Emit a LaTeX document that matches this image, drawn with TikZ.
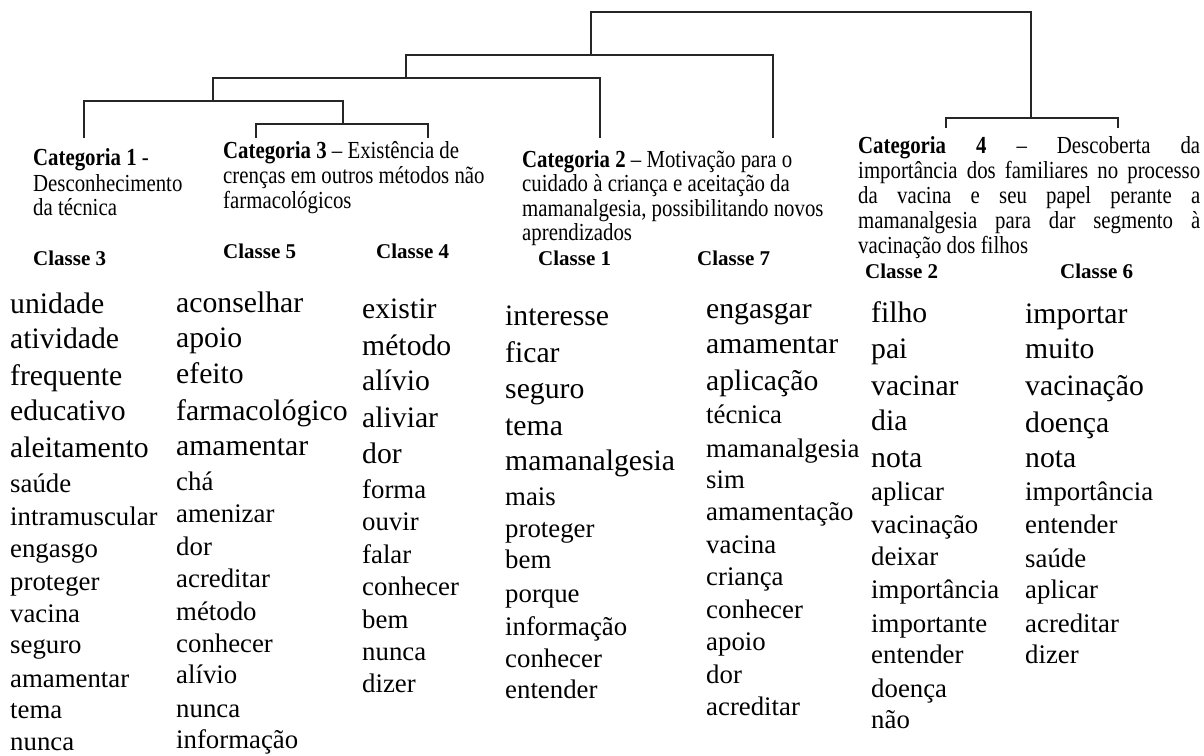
\documentclass[tikz,border=0pt]{standalone}
\usepackage{fontspec}
\setmainfont{Liberation Serif}
\newfontfamily\hdfont[FakeStretch=0.85]{Liberation Serif}
\begin{document}
\begin{tikzpicture}[x=1pt,y=-1pt,
  link/.style={line width=1.9pt, black!85},
  wbig/.style={anchor=base west, inner sep=0pt, font=\fontsize{29.7}{30}\selectfont},
  wsmall/.style={anchor=base west, inner sep=0pt, font=\fontsize{26.8}{27}\selectfont},
  cls/.style={anchor=base west, inner sep=0pt, font=\bfseries\fontsize{21}{22}\selectfont},
  cat/.style={anchor=base west, inner sep=0pt, font=\hdfont\fontsize{24.5}{25}\selectfont},
]
\useasboundingbox (0,0) rectangle (1204,755);

% ---------- dendrogram ----------
\coordinate (L1)  at (84,138);
\coordinate (L3a) at (256,138);
\coordinate (L3b) at (428,138);
\coordinate (L2a) at (600,138);
\coordinate (L2b) at (773,138);
\coordinate (L4a) at (946,128);
\coordinate (L4b) at (1118,128);
\coordinate (M124) at (343,124);
\coordinate (M101) at (213,101);
\coordinate (M78)  at (406,78);
\coordinate (M55)  at (591,55);
\coordinate (M118) at (1031,118);
\coordinate (Mtop) at (811,12);

\draw[link] (L3a) |- (M124) -| (L3b);
\draw[link] (L1) |- (M101) -| (M124);
\draw[link] (M101) |- (M78) -| (L2a);
\draw[link] (M78) |- (M55) -| (L2b);
\draw[link] (L4a) |- (M118) -| (L4b);
\draw[link] (M55) |- (Mtop) -| (M118);

% ---------- category headers ----------
\node[cat] (cat1a) at (33,165) {\textbf{Categoria 1} -};
\node[cat] (cat1b) at (33,191) {Desconhecimento};
\node[cat] (cat1c) at (33,215) {da técnica};

\node[cat] (cat3a) at (223,158) {\textbf{Categoria 3} – Existência de};
\node[cat] (cat3b) at (223,183) {crenças em outros métodos não};
\node[cat] (cat3c) at (223,208) {farmacológicos};

\node[cat] (cat2a) at (522,167) {\textbf{Categoria 2} – Motivação para o};
\node[cat] (cat2b) at (522,191.5) {cuidado à criança e aceitação da};
\node[cat] (cat2c) at (522,216) {mamanalgesia, possibilitando novos};
\node[cat] (cat2d) at (522,240.5) {aprendizados};

\node[cat] (cat4a) at (858,153) {\makebox[342pt][s]{\textbf{Categoria 4} – Descoberta da}};
\node[cat] (cat4b) at (858,178) {\makebox[342pt][s]{importância dos familiares no processo}};
\node[cat] (cat4c) at (858,203) {\makebox[342pt][s]{da vacina e seu papel perante a}};
\node[cat] (cat4d) at (858,228) {\makebox[342pt][s]{mamanalgesia para dar segmento à}};
\node[cat] (cat4e) at (858,253) {vacinação dos filhos};

% ---------- class headers ----------
\node[cls] (k3) at (33,265) {Classe 3};
\node[cls] (k5) at (223,258) {Classe 5};
\node[cls] (k4) at (376,258) {Classe 4};
\node[cls] (k1) at (538,265) {Classe 1};
\node[cls] (k7) at (697,265) {Classe 7};
\node[cls] (k2) at (865,278) {Classe 2};
\node[cls] (k6) at (1060,278) {Classe 6};

% ---------- word lists ----------
% Classe 3
\foreach \w/\y [count=\i] in {unidade/313,atividade/348,frequente/385,educativo/420,aleitamento/457}
  \node[wbig] (c3b\i) at (10,\y) {\w};
\foreach \w/\y [count=\i] in {saúde/492,intramuscular/525,engasgo/557,proteger/590,vacina/622,seguro/653,amamentar/687,tema/718,nunca/750}
  \node[wsmall] (c3s\i) at (10,\y) {\w};
% Classe 5
\foreach \w/\y [count=\i] in {aconselhar/312,apoio/347,efeito/383,farmacológico/420,amamentar/455}
  \node[wbig] (c5b\i) at (176,\y) {\w};
\foreach \w/\y [count=\i] in {chá/490,amenizar/522,dor/555,acreditar/587,método/620,conhecer/652,alívio/683,nunca/717,informação/748}
  \node[wsmall] (c5s\i) at (176,\y) {\w};
% Classe 4
\foreach \w/\y [count=\i] in {existir/318,método/355,alívio/390,aliviar/427,dor/463}
  \node[wbig] (c4b\i) at (362,\y) {\w};
\foreach \w/\y [count=\i] in {forma/498,ouvir/530,falar/563,conhecer/595,bem/628,nunca/660,dizer/692}
  \node[wsmall] (c4s\i) at (362,\y) {\w};
% Classe 1
\foreach \w/\y [count=\i] in {interesse/325,ficar/362,seguro/398,tema/435,mamanalgesia/470}
  \node[wbig] (c1b\i) at (505,\y) {\w};
\foreach \w/\y [count=\i] in {mais/505,proteger/537,bem/568,porque/602,informação/635,conhecer/667,entender/698}
  \node[wsmall] (c1s\i) at (505,\y) {\w};
% Classe 7
\foreach \w/\y [count=\i] in {engasgar/318,amamentar/353,aplicação/390}
  \node[wbig] (c7b\i) at (706,\y) {\w};
\foreach \w/\y [count=\i] in {técnica/423,mamanalgesia/457,sim/488,amamentação/520,vacina/553,criança/585,conhecer/618,apoio/650,dor/683,acreditar/715}
  \node[wsmall] (c7s\i) at (706,\y) {\w};
% Classe 2
\foreach \w/\y [count=\i] in {filho/322,pai/358,vacinar/395,dia/430,nota/467}
  \node[wbig] (c2b\i) at (871,\y) {\w};
\foreach \w/\y [count=\i] in {aplicar/500,vacinação/533,deixar/565,importância/598,importante/632,entender/663,doença/697,não/728}
  \node[wsmall] (c2s\i) at (871,\y) {\w};
% Classe 6
\foreach \w/\y [count=\i] in {importar/323,muito/358,vacinação/395,doença/432,nota/467}
  \node[wbig] (c6b\i) at (1025,\y) {\w};
\foreach \w/\y [count=\i] in {importância/500,entender/533,saúde/567,aplicar/598,acreditar/632,dizer/663}
  \node[wsmall] (c6s\i) at (1025,\y) {\w};
\end{tikzpicture}
\end{document}
